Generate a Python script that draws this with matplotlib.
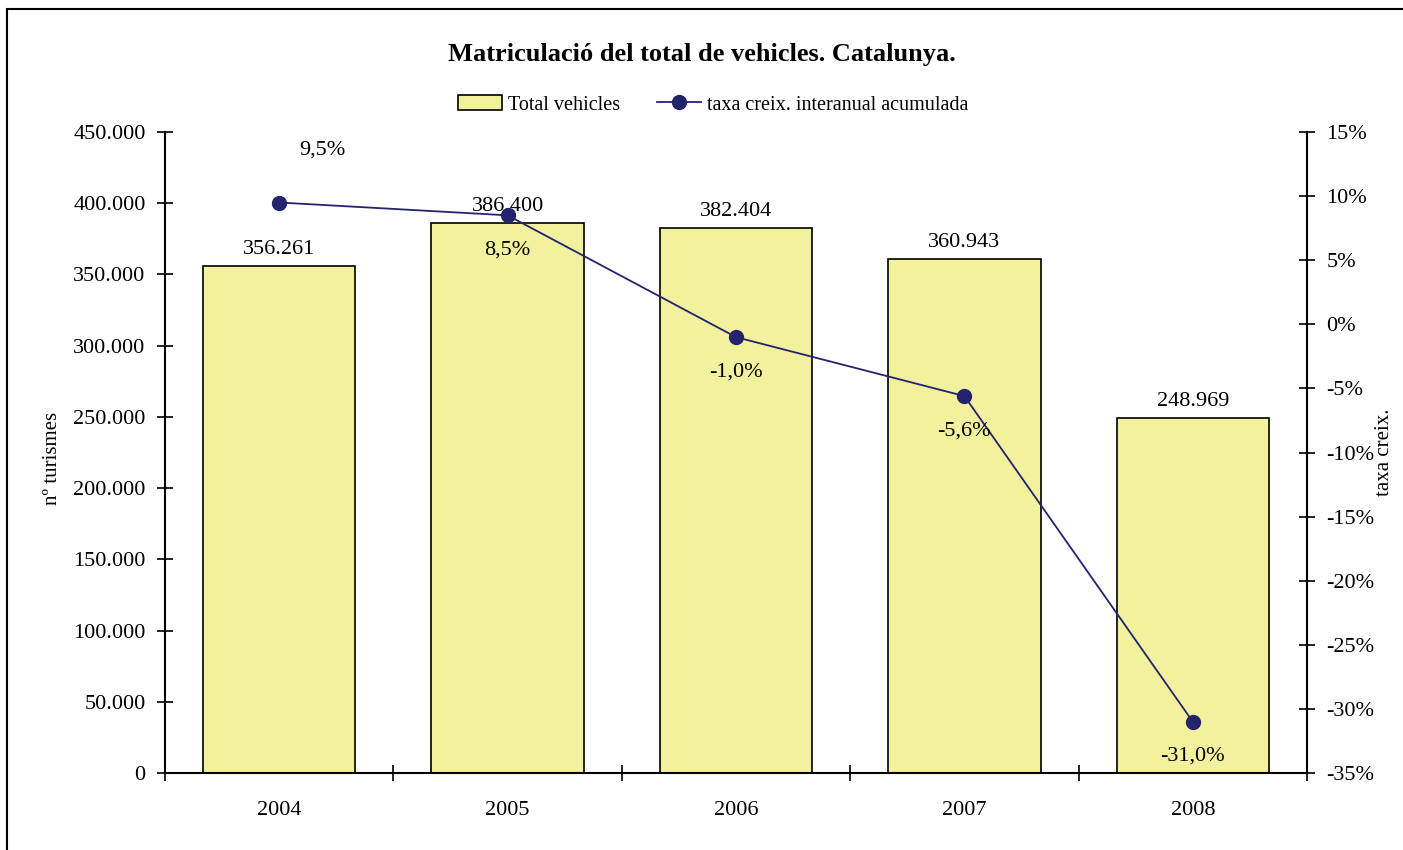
import matplotlib
matplotlib.use('Agg')
import matplotlib.pyplot as plt
from matplotlib.ticker import FuncFormatter, FixedLocator
from matplotlib.patches import Rectangle

# Data
years = ['2004', '2005', '2006', '2007', '2008']
total_vehicles = [356261, 386400, 382404, 360943, 248969]
taxa_creix = [9.5, 8.5, -1.0, -5.6, -31.0]
bar_labels = ['356.261', '386.400', '382.404', '360.943', '248.969']
taxa_labels = ['9,5%', '8,5%', '-1,0%', '-5,6%', '-31,0%']

plt.rcParams['font.family'] = ['Liberation Serif', 'DejaVu Serif']

fig = plt.figure(figsize=(14.03, 8.5), dpi=100)
ax = fig.add_axes([165 / 1403, 1 - 773 / 850, (1307 - 165) / 1403, (773 - 132) / 850])

# Frame around the chart
fig.patches.append(Rectangle((7 / 1403, -0.1), 1.2, 1 - 9 / 850 + 0.1, transform=fig.transFigure,
                             fill=False, edgecolor='black', linewidth=1.5))

x = list(range(len(years)))
bar_color = '#F2F19E'
line_color = '#23236E'

bars = ax.bar(x, total_vehicles, width=0.667, color=bar_color, edgecolor='black', linewidth=1.2,
              label='Total vehicles', zorder=2)
ax.set_xlim(-0.5, len(years) - 0.5)
ax.set_ylim(0, 450000)
ax.yaxis.set_major_locator(FixedLocator(range(0, 450001, 50000)))
ax.yaxis.set_major_formatter(FuncFormatter(lambda v, p: f'{int(v):,}'.replace(',', '.')))
ax.set_xticks(x)
ax.set_xticklabels(years)
ax.set_xticks([i + 0.5 for i in range(-1, len(years))], minor=True)
ax.tick_params(axis='x', which='major', length=0, pad=20, labelsize=16)
ax.tick_params(axis='x', which='minor', direction='inout', length=12, width=1.2)
ax.tick_params(axis='y', direction='inout', length=12, width=1.2, labelsize=16, pad=8)
ax.spines['top'].set_visible(False)
ax.spines['right'].set_visible(False)
for s in ['left', 'bottom']:
    ax.spines[s].set_linewidth(1.5)
ax.set_ylabel('nº turismes', fontsize=15)
ax.yaxis.set_label_coords(-0.09, 0.49)

for i, lab in enumerate(bar_labels):
    ax.annotate(lab, (x[i], total_vehicles[i]), xytext=(0, 5), textcoords='offset points',
                ha='center', va='bottom', fontsize=16)

ax2 = ax.twinx()
line, = ax2.plot(x, taxa_creix, color=line_color, linewidth=1.3, marker='o', markersize=10,
                 label='taxa creix. interanual acumulada', zorder=3)
ax2.set_ylim(-35, 15)
ax2.yaxis.set_major_locator(FixedLocator(range(-35, 16, 5)))
ax2.yaxis.set_major_formatter(FuncFormatter(lambda v, p: f'{int(v)}%'))
ax2.tick_params(axis='y', direction='inout', length=12, width=1.2, labelsize=16, pad=8)
for s in ['top', 'left', 'bottom']:
    ax2.spines[s].set_visible(False)
ax2.spines['right'].set_linewidth(1.5)
ax2.set_ylabel('taxa creix.', fontsize=15, labelpad=0)

offsets = [(31, 31), (0, -18), (0, -18), (0, -18), (0, -18)]
for i, lab in enumerate(taxa_labels):
    dx, dy = offsets[i]
    ax2.annotate(lab, (x[i], taxa_creix[i]), xytext=(dx, dy), textcoords='offset points',
                 ha='center', va='bottom' if dy > 0 else 'top', fontsize=16)

fig.suptitle('Matriculació del total de vehicles. Catalunya.', y=1 - 55 / 850, va='center',
             fontsize=19, fontweight='bold')
fig.legend(handles=[bars, line], loc='center', bbox_to_anchor=(713 / 1403, 1 - 105 / 850), ncol=2,
           frameon=False, fontsize=14.5, handlelength=2.2, columnspacing=1.8, handletextpad=0.3)

fig.savefig('out.png', dpi=100)
